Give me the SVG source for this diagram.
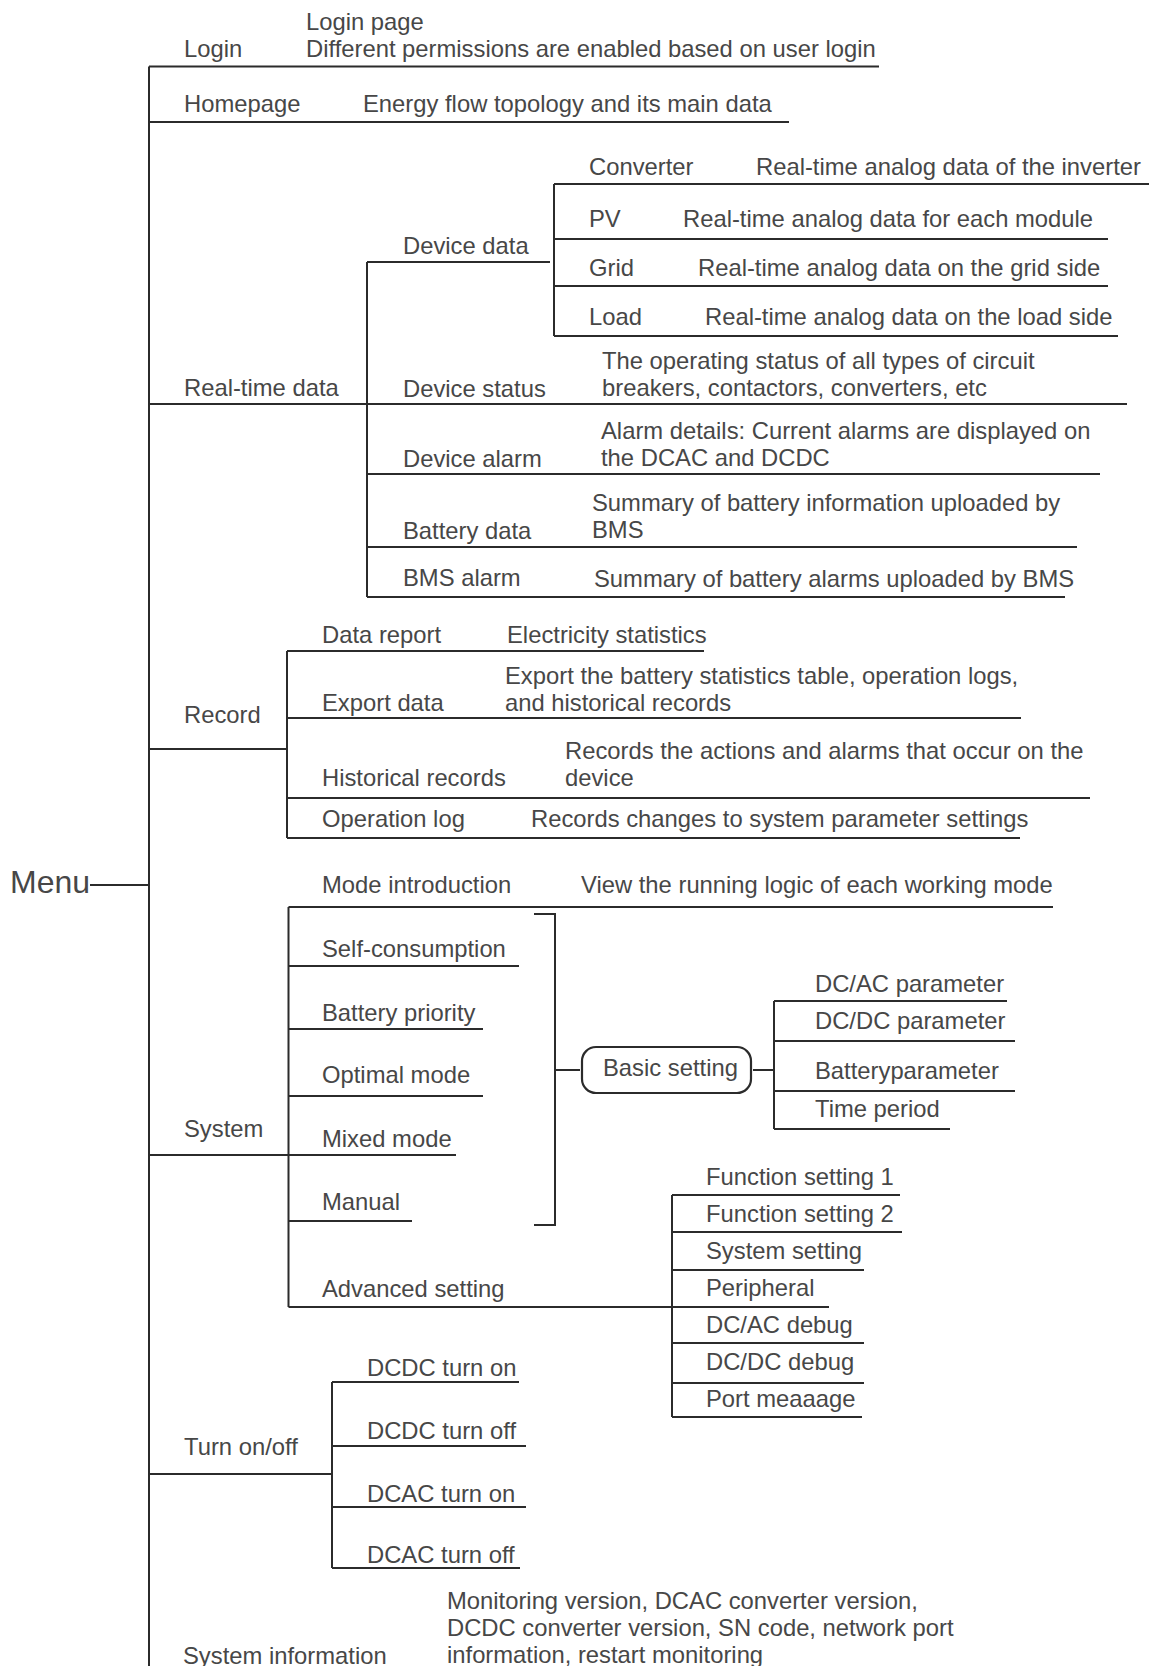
<svg xmlns="http://www.w3.org/2000/svg" width="1157" height="1666" viewBox="0 0 1157 1666">
<style>
text{font-family:"Liberation Sans",Arial,sans-serif;font-size:23.8px;fill:#474747}
.menu{font-size:32px}
.c line,.c path{stroke:#2b2b2b;stroke-width:2;fill:none}
.box{fill:#fff;stroke:#2b2b2b;stroke-width:2.2}
</style>
<rect width="1157" height="1666" fill="#fff"/>
<g class="c" id="connectors">
<line x1="149" y1="66.5" x2="149" y2="1666"/>
<line x1="90" y1="885" x2="149" y2="885"/>
<line x1="149" y1="66.5" x2="879" y2="66.5"/>
<line x1="149" y1="122" x2="789" y2="122"/>
<line x1="554" y1="184" x2="1149" y2="184"/>
<line x1="554" y1="184" x2="554" y2="336"/>
<line x1="554" y1="239" x2="1108" y2="239"/>
<line x1="367" y1="262" x2="550" y2="262"/>
<line x1="554" y1="286" x2="1108" y2="286"/>
<line x1="554" y1="336" x2="1118" y2="336"/>
<line x1="367" y1="262" x2="367" y2="597"/>
<line x1="149" y1="404" x2="1127" y2="404"/>
<line x1="367" y1="474" x2="1100" y2="474"/>
<line x1="367" y1="547" x2="1077" y2="547"/>
<line x1="367" y1="597" x2="1065" y2="597"/>
<line x1="287" y1="651" x2="704" y2="651"/>
<line x1="287" y1="651" x2="287" y2="838"/>
<line x1="287" y1="718" x2="1021" y2="718"/>
<line x1="149" y1="749" x2="287" y2="749"/>
<line x1="287" y1="798" x2="1090" y2="798"/>
<line x1="287" y1="838" x2="1020" y2="838"/>
<line x1="288.5" y1="907" x2="1053" y2="907"/>
<line x1="288.5" y1="907" x2="288.5" y2="1307"/>
<line x1="288.5" y1="966" x2="519" y2="966"/>
<line x1="288.5" y1="1029" x2="483" y2="1029"/>
<line x1="288.5" y1="1096" x2="483" y2="1096"/>
<line x1="149" y1="1155" x2="456" y2="1155"/>
<line x1="288.5" y1="1221" x2="412" y2="1221"/>
<line x1="288.5" y1="1307" x2="829" y2="1307"/>
<path d="M534 914H555V1225H534"/>
<line x1="555" y1="1070" x2="580" y2="1070"/>
<line x1="753" y1="1070" x2="774" y2="1070"/>
<line x1="774" y1="1001" x2="774" y2="1129"/>
<line x1="774" y1="1001" x2="1007" y2="1001"/>
<line x1="774" y1="1041" x2="1015" y2="1041"/>
<line x1="774" y1="1091" x2="1015" y2="1091"/>
<line x1="774" y1="1129" x2="950" y2="1129"/>
<line x1="672" y1="1195" x2="672" y2="1417"/>
<line x1="672" y1="1195" x2="900" y2="1195"/>
<line x1="672" y1="1232" x2="902" y2="1232"/>
<line x1="672" y1="1270" x2="864" y2="1270"/>
<line x1="672" y1="1343" x2="864" y2="1343"/>
<line x1="672" y1="1383" x2="864" y2="1383"/>
<line x1="672" y1="1417" x2="862" y2="1417"/>
<line x1="332" y1="1382" x2="332" y2="1568"/>
<line x1="332" y1="1382" x2="519" y2="1382"/>
<line x1="332" y1="1446" x2="526" y2="1446"/>
<line x1="149" y1="1474" x2="332" y2="1474"/>
<line x1="332" y1="1507" x2="526" y2="1507"/>
<line x1="332" y1="1568" x2="520" y2="1568"/>
</g>
<g id="menu"><text class="menu" x="10" y="893">Menu</text></g>
<g id="login"><text x="184" y="57">Login</text><text x="306" y="30">Login page</text><text x="306" y="57">Different permissions are enabled based on user login</text></g>
<g id="homepage"><text x="184" y="112">Homepage</text><text x="363" y="112">Energy flow topology and its main data</text></g>
<g id="realtime"><text x="184" y="396">Real-time data</text></g>
<g id="devicedata"><text x="403" y="254">Device data</text></g>
<g id="converter"><text x="589" y="175">Converter</text><text x="756" y="175">Real-time analog data of the inverter</text></g>
<g id="pv"><text x="589" y="227">PV</text><text x="683" y="227">Real-time analog data for each module</text></g>
<g id="grid"><text x="589" y="276">Grid</text><text x="698" y="276">Real-time analog data on the grid side</text></g>
<g id="load"><text x="589" y="325">Load</text><text x="705" y="325">Real-time analog data on the load side</text></g>
<g id="devicestatus"><text x="403" y="397">Device status</text><text x="602" y="369">The operating status of all types of circuit</text><text x="602" y="396">breakers, contactors, converters, etc</text></g>
<g id="devicealarm"><text x="403" y="467">Device alarm</text><text x="601" y="439">Alarm details: Current alarms are displayed on</text><text x="601" y="466">the DCAC and DCDC</text></g>
<g id="batterydata"><text x="403" y="539">Battery data</text><text x="592" y="511">Summary of battery information uploaded by</text><text x="592" y="538">BMS</text></g>
<g id="bmsalarm"><text x="403" y="586">BMS alarm</text><text x="594" y="587">Summary of battery alarms uploaded by BMS</text></g>
<g id="record"><text x="184" y="723">Record</text></g>
<g id="datareport"><text x="322" y="643">Data report</text><text x="507" y="643">Electricity statistics</text></g>
<g id="exportdata"><text x="322" y="711">Export data</text><text x="505" y="684">Export the battery statistics table, operation logs,</text><text x="505" y="711">and historical records</text></g>
<g id="historical"><text x="322" y="786">Historical records</text><text x="565" y="759">Records the actions and alarms that occur on the</text><text x="565" y="786">device</text></g>
<g id="oplog"><text x="322" y="827">Operation log</text><text x="531" y="827">Records changes to system parameter settings</text></g>
<g id="system"><text x="184" y="1137">System</text></g>
<g id="modeintro"><text x="322" y="893">Mode introduction</text><text x="581" y="893">View the running logic of each working mode</text></g>
<g id="selfcons"><text x="322" y="957">Self-consumption</text></g>
<g id="batprio"><text x="322" y="1021">Battery priority</text></g>
<g id="optimal"><text x="322" y="1083">Optimal mode</text></g>
<g id="mixed"><text x="322" y="1147">Mixed mode</text></g>
<g id="manual"><text x="322" y="1210">Manual</text></g>
<g id="basic"><rect class="box" x="582" y="1047" width="169" height="46" rx="14"/><text x="603" y="1076">Basic setting</text></g>
<g id="dcacparam"><text x="815" y="992">DC/AC parameter</text></g>
<g id="dcdcparam"><text x="815" y="1029">DC/DC parameter</text></g>
<g id="batparam"><text x="815" y="1079">Batteryparameter</text></g>
<g id="timeperiod"><text x="815" y="1117">Time period</text></g>
<g id="advanced"><text x="322" y="1297">Advanced setting</text></g>
<g id="func1"><text x="706" y="1185">Function setting 1</text></g>
<g id="func2"><text x="706" y="1222">Function setting 2</text></g>
<g id="syssetting"><text x="706" y="1259">System setting</text></g>
<g id="peripheral"><text x="706" y="1296">Peripheral</text></g>
<g id="dcacdebug"><text x="706" y="1333">DC/AC debug</text></g>
<g id="dcdcdebug"><text x="706" y="1370">DC/DC debug</text></g>
<g id="port"><text x="706" y="1407">Port meaaage</text></g>
<g id="turnonoff"><text x="184" y="1455">Turn on/off</text></g>
<g id="dcdcon"><text x="367" y="1376">DCDC turn on</text></g>
<g id="dcdcoff"><text x="367" y="1439">DCDC turn off</text></g>
<g id="dcacon"><text x="367" y="1502">DCAC turn on</text></g>
<g id="dcacoff"><text x="367" y="1563">DCAC turn off</text></g>
<g id="sysinfo"><text x="183" y="1664">System information</text><text x="447" y="1609">Monitoring version, DCAC converter version,</text><text x="447" y="1636">DCDC converter version, SN code, network port</text><text x="447" y="1663">information, restart monitoring</text></g>
</svg>
